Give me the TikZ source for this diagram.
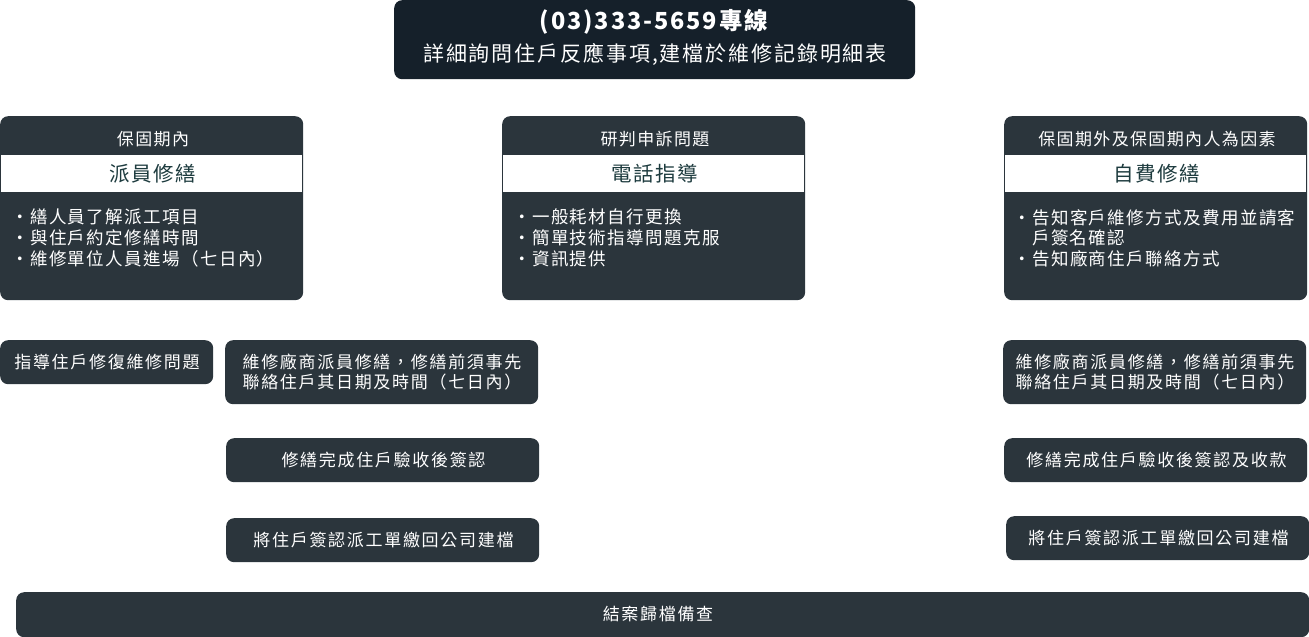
\documentclass[tikz,border=0pt]{standalone}
\usepackage{fontspec}
\setmainfont{Noto Sans CJK TC}
\newfontfamily\bodyf[LetterSpace=10]{Noto Sans CJK TC}
\newfontfamily\bulf[LetterSpace=8]{Noto Sans CJK TC}
\newfontfamily\topf[LetterSpace=8]{Noto Sans CJK TC}
\newfontfamily\toptwo[LetterSpace=9]{Noto Sans CJK TC}
\definecolor{boxc}{HTML}{2B353C}
\definecolor{topc}{HTML}{15202A}
\definecolor{titc}{HTML}{1D3B3E}
\tikzset{
  darkbox/.style={rounded corners=8pt, fill=boxc, draw=none, inner sep=0pt, anchor=north west},
  boxtext/.style={text=white, inner sep=0pt, align=center, font=\bodyf\fontsize{17}{20.5}\selectfont},
  headtext/.style={text=white, inner sep=0pt, font=\bulf\fontsize{17}{20}\selectfont},
  titletext/.style={text=titc, inner sep=0pt, font=\bulf\fontsize{20.5}{24}\selectfont},
  bullettext/.style={text=white, inner sep=0pt, anchor=north west, align=left, font=\bulf\fontsize{17.5}{20.8}\selectfont},
  band/.style={fill=white, draw=none, inner sep=0pt, anchor=north west}
}
\newcommand{\bul}{\makebox[15pt][l]{\hspace*{-4pt}·}}
\begin{document}
\begin{tikzpicture}[x=1pt,y=-1pt]
\useasboundingbox (0,0) rectangle (1309,637);

% top box
\node[darkbox, fill=topc, minimum width=521pt, minimum height=79pt] (top) at (394,0) {};
\node[text=white, inner sep=0pt, font=\topf\bfseries\fontsize{23.5}{27}\selectfont] (topl1) at (654,22) {(03)333-5659專線};
\node[text=white, inner sep=0pt, font=\toptwo\fontsize{21}{25}\selectfont] (topl2) at (655,54) {詳細詢問住戶反應事項,建檔於維修記錄明細表};

% cards
\foreach \n/\x in {c1/0, c2/502, c3/1004}{
  \node[darkbox, minimum width=303pt, minimum height=184pt] (\n) at (\x,116) {};
  \node[band, minimum width=301pt, minimum height=37pt] (\n band) at (\x+1,155) {};
}
\node[headtext] (h1) at (153,139.5) {保固期內};
\node[titletext] (t1) at (153,174) {派員修繕};
\node[bullettext] (b1) at (15,209) {\bul 繕人員了解派工項目\\\bul 與住戶約定修繕時間\\\bul 維修單位人員進場（七日內）};

\node[headtext] (h2) at (655,139.5) {研判申訴問題};
\node[titletext] (t2) at (655,174) {電話指導};
\node[bullettext] (b2) at (517,209) {\bul 一般耗材自行更換\\\bul 簡單技術指導問題克服\\\bul 資訊提供};

\node[headtext] (h3) at (1157,139.5) {保固期外及保固期內人為因素};
\node[titletext] (t3) at (1157,174) {自費修繕};
\node[bullettext] (b3) at (1017,209) {\bul 告知客戶維修方式及費用並請客\\\hspace*{15pt}戶簽名確認\\\bul 告知廠商住戶聯絡方式};

% left column
\node[darkbox, minimum width=213pt, minimum height=44pt] (g1) at (0,340) {};
\node[boxtext] (g1t) at (107,362) {指導住戶修復維修問題};

\node[darkbox, minimum width=313pt, minimum height=64pt] (l1) at (225,340) {};
\node[boxtext] (l1t) at (382,372) {維修廠商派員修繕，修繕前須事先\\聯絡住戶其日期及時間（七日內）};

\node[darkbox, minimum width=313pt, minimum height=44pt] (l2) at (226,438) {};
\node[boxtext] (l2t) at (383.5,460) {修繕完成住戶驗收後簽認};

\node[darkbox, minimum width=313pt, minimum height=44pt] (l3) at (226,518) {};
\node[boxtext] (l3t) at (383.5,540) {將住戶簽認派工單繳回公司建檔};

% right column
\node[darkbox, minimum width=303pt, minimum height=64pt] (r1) at (1003,340) {};
\node[boxtext] (r1t) at (1155,372) {維修廠商派員修繕，修繕前須事先\\聯絡住戶其日期及時間（七日內）};

\node[darkbox, minimum width=303pt, minimum height=44pt] (r2) at (1004,438) {};
\node[boxtext] (r2t) at (1156.5,460) {修繕完成住戶驗收後簽認及收款};

\node[darkbox, minimum width=303pt, minimum height=44pt] (r3) at (1006,516) {};
\node[boxtext] (r3t) at (1158.5,538) {將住戶簽認派工單繳回公司建檔};

% bottom bar
\node[darkbox, minimum width=1293pt, minimum height=45pt] (bot) at (16,592) {};
\node[boxtext] (bott) at (658,614) {結案歸檔備查};
\end{tikzpicture}
\end{document}
